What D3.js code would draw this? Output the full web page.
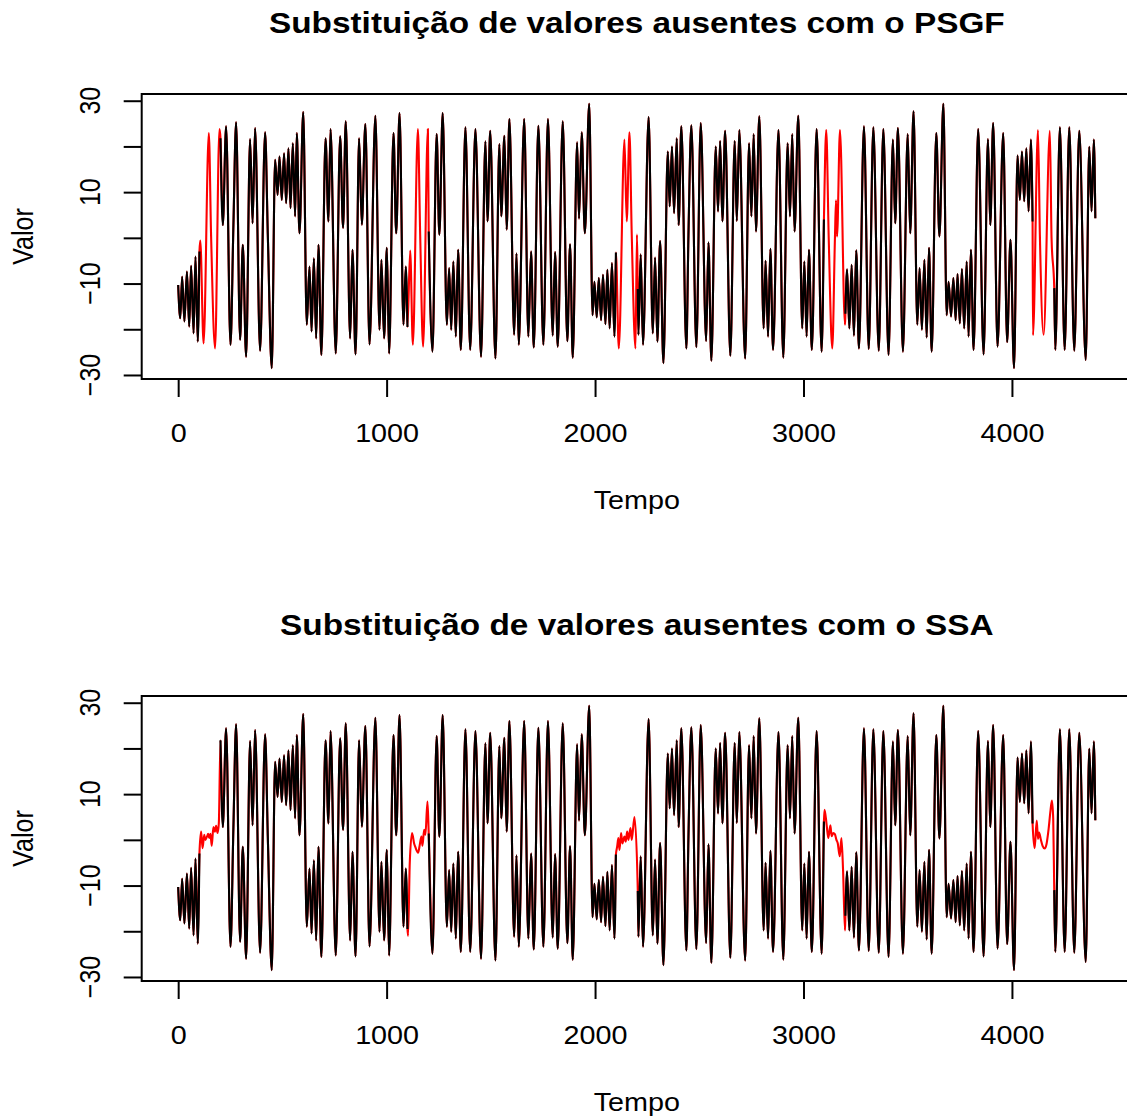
<!DOCTYPE html>
<html>
<head>
<meta charset="utf-8">
<script src="https://cdn.jsdelivr.net/npm/d3@7"></script>
<style>
  body { margin: 0; background: #fff; }
  text { font-family: "Liberation Sans", Arial, Helvetica, sans-serif; fill: #000; }
</style>
</head>
<body>
<script>
// serie original (pontos de virada); null = trecho ausente
var original = [
  [0,-10.3],[10,-17.6],[19,-8.5],[30,-18.3],[42,-7.4],[53,-19.4],[62,-6.1],[74,-20.9],[83,-4.1],[94,-22.7],[102,-3.0],
  null,
  [203,21.8],[214,2.8],[230,24.4],[251,-23.4],[265,2.8],[278,25.3],[297,-22.3],[310,-1.5],[326,-26],[345,21.6],[357,3.2],
  [369,24],[393,-24.7],[417,23.1],[430,0.7],[449,-28.5],[465,17.1],[477,9.4],[486,17.8],[497,8.3],[508,18.5],[518,7.6],
  [529,19.6],[539,6.5],[550,20.7],[561,4.7],[569,22.9],[582,1.0],[600,27.5],[617,-19],[630,-6.3],[640,-20.5],[651,-4.5],
  [662,-22],[673,-1.5],[687,-25.6],[707,21.8],[721,3.6],[731,23.8],[756,-25.3],[777,22.2],[791,2.2],[804,25.5],[825,-22],
  [836,-2.6],[851,-25.5],[868,21.8],[881,2.9],[898,24.9],[918,-23.3],[946,26.7],[966,-20.1],[975,-4.8],[988,-22],
  [1001,-2.2],[1012,-25.3],[1033,22.9],[1046,1],[1062,27.3],[1081,-19],[1092,-6.3],[1100,-19.5],
  null,
  [1202,1.4],[1220,-24.9],[1240,22.7],[1253,0.7],[1269,27.3],[1289,-19],[1300,-6.6],[1310,-20.1],[1320,-5.2],[1332,-21.6],
  [1343,-2.6],[1356,-24.5],[1378,24.2],[1401,-24.5],[1426,23.8],[1453,-26],[1474,21.1],[1484,3.6],[1497,23.4],[1522,-26.4],
  [1541,20.5],[1550,4.7],[1565,22.3],[1576,1.8],[1589,26],[1612,-21.2],[1623,-3.4],[1634,-23.4],[1660,26],[1680,-21.6],
  [1693,-3],[1706,-24],[1728,24.5],[1752,-23.4],[1774,26],[1797,-21.4],[1808,-3.1],[1821,-23.8],[1845,25.5],[1867,-22.6],
  [1880,-1.4],[1893,-26.2],[1914,20.9],[1923,4.2],[1936,23.1],[1951,1.0],[1972,29.3],[1988,-16.9],[1997,-9.6],[2008,-17.4],
  [2018,-8.8],[2029,-18],[2038,-8.1],[2050,-18.9],[2059,-7],[2070,-19.8],[2081,-5.5],[2093,-21.6],[2100,-3.2],
  null,
  [2205,-11.2],[2208,-21.2],[2219,-3.6],[2230,-23.4],[2257,26.4],[2277,-20.9],[2288,-4.3],[2299,-22.7],[2312,-0.7],
  [2328,-27.4],[2349,18.9],[2358,6.9],[2369,20],[2379,5.4],[2392,21.8],[2401,2.8],[2414,24.4],[2438,-24.2],[2448,0.5],
  [2462,24.6],[2486,-23.9],[2507,25.1],[2533,-22.6],[2544,-1],[2558,-26.9],[2579,20],[2590,5.8],[2600,21.2],[2611,3.6],
  [2624,23.4],[2649,-25.8],[2670,21.2],[2680,3.7],[2692,23.6],[2720,-26.4],[2739,20.7],[2750,4.7],[2761,22.7],[2772,1.4],
  [2788,26.6],[2809,-19.8],[2818,-5],[2830,-21.6],[2841,-2.4],[2854,-24.5],[2880,23.6],[2903,-26.2],[2924,20.7],[2935,4.7],
  [2946,22.7],[2957,1.4],[2975,26.7],[2994,-19.8],[3004,-5.2],[3015,-21.6],[3026,-2.6],[3040,-24.5],[3063,23.8],
  [3087,-24.9],[3098,4],
  null,
  [3201,-16.6],[3209,-6.9],[3220,-19.8],[3231,-5.9],[3242,-21.4],[3253,-2.7],[3266,-24.2],[3290,24.4],[3313,-24.3],
  [3335,24.2],[3361,-24.7],[3383,23.8],[3408,-25.6],[3429,21.5],[3440,3.2],[3453,24],[3477,-24.9],[3500,22.7],[3512,1],
  [3528,27.7],[3546,-19],[3557,-6.6],[3568,-20.1],[3580,-4.8],[3591,-21.8],[3602,-2.2],[3615,-24.9],[3637,22.9],[3652,0.3],
  [3671,29.3],[3687,-16.9],[3696,-9.6],[3708,-17.2],[3719,-8.8],[3730,-18],[3739,-7.9],[3750,-18.7],[3760,-6.8],
  [3771,-19.8],[3783,-5.2],[3792,-21.6],[3803,-2.6],[3816,-24.5],[3838,23.8],[3864,-25.5],[3885,21.6],[3896,2.8],
  [3910,25.1],[3931,-23.8],[3958,22.9],[3977,-22.8],[3993,-0.4],[4010,-28.5],[4027,18],[4038,8.3],[4048,18.9],[4059,8],
  [4069,19.6],[4080,5.8],[4091,21.5],[4099,3.6],
  null,
  [4203,-11],[4208,-24.5],[4230,24.2],[4253,-24.5],[4275,24.2],[4299,-24.7],[4323,23.4],[4354,-26.7],[4371,19.9],
  [4382,5.8],[4393,21.5],[4400,4.3]
];

// valores preenchidos pelo PSGF
var psgf = [
  [106,-0.6],[122,-23.1],[147,22.9],[158,0.3],[177,-24.2],[198,23.8],
  [1113,-2.8],[1126,-23.4],[1150,23.8],[1161,0.7],[1175,-23.8],[1198,23.8],
  [2114,-24.2],[2141,21.5],[2152,3.6],[2165,23.1],[2176,0.7],[2194,-24.2],[2201,0.7],
  [3109,23.6],[3121,0],[3138,-24.2],[3151,0.3],[3156,8.2],[3161,0.3],[3175,23.6],[3199,-19],
  [4101,-21.3],[4125,23.6],[4134,0.7],[4152,-21.2],[4182,23.4],[4190,0]
];

// valores preenchidos pelo SSA
var ssa = [
  [110,1.8],[117,-1.8],[125,1.1],[130,0],[138,0.7],[144,1.3],[149,0.4],[155,1.3],[161,-1.3],[169,2.8],[176,1.8],
  [182,3.1],[189,1.5],[195,3.6],
  [1103,-21],[1111,-5.1],[1122,1.5],[1132,-0.8],[1138,-1.6],[1151,-2.8],[1159,-1.1],[1167,0.7],[1172,-1.3],[1180,2.2],
  [1186,1.1],[1196,8.4],
  [2106,-1.5],[2112,0.4],[2117,-2.2],[2125,1.5],[2131,-0.8],[2141,0.7],[2147,-0.4],[2154,1.8],[2160,0],[2170,2.6],
  [2176,0],[2189,5],
  [3101,6.6],[3111,3.3],[3119,0.4],[3129,3.2],[3135,0.8],[3143,1.5],[3151,1.2],[3158,0],[3164,-0.7],[3174,-3.6],
  [3182,0.4],[3190,-6.9],[3199,-19.8],
  [4109,-1.8],[4119,4.2],[4125,0.2],[4130,1.6],[4138,0.2],[4147,-1.3],[4157,-1.9],[4166,-0.9],[4176,2.4],[4185,6.4],
  [4192,8.6],[4198,4.6]
];

var xTicks = [0, 1000, 2000, 3000, 4000];
var yTicks = [-30, -20, -10, 0, 10, 20, 30];
var yLabels = [-30, -10, 10, 30];

var panels = [
  { title: "Substituição de valores ausentes com o PSGF", fill: psgf, top: 94 },
  { title: "Substituição de valores ausentes com o SSA", fill: ssa, top: 696 }
];

var width = 1127, height = 1118,
    left = 141.7, right = 1132, boxH = 285,
    sx = 1.15; // o texto do original e um pouco esticado na horizontal

var svg = d3.select("body").append("svg")
    .attr("width", width)
    .attr("height", height);

var x = d3.scaleLinear().domain([-175, 4576]).range([left, right]);

panels.forEach(function(p, i) {
    var top = p.top, bottom = top + boxH;
    var y = d3.scaleLinear().domain([-30.88, 31.47]).range([bottom, top]);

    var line = d3.line()
        .defined(function(d) { return d != null; })
        .x(function(d) { return x(d[0]); })
        .y(function(d) { return y(d[1]); })
        .curve(d3.curveMonotoneX);

    // serie completa (original + preenchida) em vermelho, por baixo
    var full = original.filter(Boolean).concat(p.fill)
        .sort(function(a, b) { return a[0] - b[0]; });

    svg.append("clipPath").attr("id", "clip" + i)
        .append("rect").attr("x", left).attr("y", top)
        .attr("width", right - left).attr("height", boxH);

    var g = svg.append("g").attr("clip-path", "url(#clip" + i + ")");

    g.append("path").datum(full)
        .attr("fill", "none").attr("stroke", "#ff0000")
        .attr("stroke-width", 2.1).attr("stroke-linejoin", "round")
        .attr("d", line);

    g.append("path").datum(original)
        .attr("fill", "none").attr("stroke", "#000")
        .attr("stroke-width", 2.1).attr("stroke-linejoin", "round")
        .attr("d", line);

    svg.append("rect")
        .attr("x", left).attr("y", top)
        .attr("width", right - left).attr("height", boxH)
        .attr("fill", "none").attr("stroke", "#000").attr("stroke-width", 2);

    // eixo x
    var ax = svg.append("g")
        .attr("transform", "translate(0," + bottom + ")")
        .call(d3.axisBottom(x).tickValues(xTicks).tickSize(18).tickSizeOuter(0)
            .tickPadding(27).tickFormat(d3.format("d")));
    ax.select(".domain").remove();
    ax.selectAll(".tick line").attr("stroke-width", 2);
    ax.selectAll("text").attr("font-size", 25)
        .attr("transform", "scale(" + sx + ",1)")
        .style("font-family", "'Liberation Sans', Arial, Helvetica, sans-serif");

    // eixo y
    var ay = svg.append("g")
        .attr("transform", "translate(" + left + ",0)")
        .call(d3.axisLeft(y).tickValues(yTicks).tickSize(18).tickSizeOuter(0).tickFormat(""));
    ay.select(".domain").remove();
    ay.selectAll(".tick line").attr("stroke-width", 2);

    svg.selectAll(null).data(yLabels).enter().append("text")
        .attr("transform", function(d) {
            return "translate(100," + y(d) + ") scale(" + sx + ",1) rotate(-90)";
        })
        .attr("text-anchor", "middle")
        .attr("font-size", 25)
        .text(d3.format("d"));

    var cx = (left + right) / 2;

    svg.append("text")
        .attr("transform", "translate(" + cx + "," + (top - 61) + ") scale(" + sx + ",1)")
        .attr("text-anchor", "middle")
        .attr("font-size", 29).attr("font-weight", "bold")
        .text(p.title);

    svg.append("text")
        .attr("transform", "translate(" + cx + "," + (top + 415) + ") scale(" + sx + ",1)")
        .attr("text-anchor", "middle")
        .attr("font-size", 25)
        .text("Tempo");

    svg.append("text")
        .attr("transform", "translate(33," + (top + boxH / 2) + ") scale(" + sx + ",1) rotate(-90)")
        .attr("text-anchor", "middle")
        .attr("font-size", 25)
        .text("Valor");
});
</script>
</body>
</html>
